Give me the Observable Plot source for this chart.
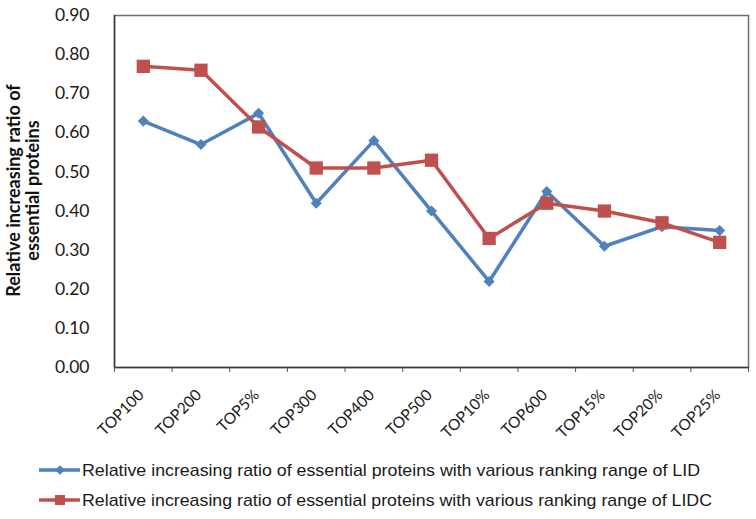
<!DOCTYPE html>
<html>
<head>
<meta charset="utf-8">
<script src="https://cdn.jsdelivr.net/npm/d3@7"></script>
<script src="https://cdn.jsdelivr.net/npm/@observablehq/plot@0.6"></script>
<style>
  html, body { margin: 0; padding: 0; background: #fff; }
  #wrap { width: 756px; height: 519px; position: relative; overflow: hidden; background: #fff; }
  #chart { position: absolute; left: 0; top: 0; }
  #legend { position: absolute; left: 0; top: 455px; }
</style>
</head>
<body>
<div id="wrap">
  <div id="chart"></div>
  <svg id="legend" width="756" height="64"></svg>
</div>
<script>
const categories = ["TOP100","TOP200","TOP5%","TOP300","TOP400","TOP500","TOP10%","TOP600","TOP15%","TOP20%","TOP25%"];
const lidValues  = [0.63, 0.57, 0.65, 0.42, 0.58, 0.40, 0.22, 0.45, 0.31, 0.36, 0.35];
const lidcValues = [0.77, 0.76, 0.615, 0.51, 0.51, 0.53, 0.33, 0.42, 0.40, 0.37, 0.32];
const yTicks = [0, 0.1, 0.2, 0.3, 0.4, 0.5, 0.6, 0.7, 0.8, 0.9];
const seriesNames = [
  "Relative increasing ratio of essential proteins with various ranking range of LID",
  "Relative increasing ratio of essential proteins with various ranking range of LIDC"
];
const yTitle = "Relative increasing ratio of\nessential proteins";

const blue = "#4F81BD", red = "#C0504D";
const data = categories.map((c, i) => ({i, cat: c, lid: lidValues[i], lidc: lidcValues[i]}));
const idx = categories.map((c, i) => i);
const bounds = d3.range(categories.length + 1).map(i => i - 0.5);

const chart = Plot.plot({
  width: 756, height: 455,
  marginLeft: 114, marginRight: 8, marginTop: 15, marginBottom: 88,
  x: {domain: [-0.5, categories.length - 0.5]},
  y: {domain: [0, 0.9]},
  style: {fontFamily: "Lato, 'Liberation Sans', Arial, sans-serif", background: "white", color: "#1a1a1a", overflow: "visible"},
  marks: [
    Plot.frame({stroke: "#6e6e6e", strokeWidth: 1.5}),
    Plot.ruleX([-0.5], {stroke: "#3a3a3a", strokeWidth: 1.5}),
    Plot.ruleY([0], {stroke: "#3a3a3a", strokeWidth: 1.5}),
    Plot.axisY(yTicks, {tickSize: 0, tickPadding: 25, tickFormat: d3.format(".2f"), fontSize: 17.5, label: null}),
    Plot.axisX(bounds, {tickSize: 5, tickFormat: () => "", label: null, stroke: "#555"}),
    Plot.axisX(idx, {tickSize: 0, tickPadding: 25, dx: -2, tickRotate: -45, tickFormat: i => categories[i], fontSize: 15.5, label: null}),
    Plot.line(data, {x: "i", y: "lid", stroke: blue, strokeWidth: 3.5}),
    Plot.dot(data, {x: "i", y: "lid", symbol: "diamond2", r: 5, fill: blue, stroke: "none"}),
    Plot.line(data, {x: "i", y: "lidc", stroke: red, strokeWidth: 3.5}),
    Plot.dot(data, {x: "i", y: "lidc", symbol: "square", r: 7.5, fill: red, stroke: "none"}),
    Plot.text([yTitle], {text: d => d, frameAnchor: "left", rotate: -90, dx: -91, dy: -1, textAnchor: "middle",
      fontWeight: "bold", fontSize: 18, lineHeight: 1.05, fill: "#111"})
  ]
});
document.getElementById("chart").appendChild(chart);

// legend
const lg = d3.select("#legend");
const rows = [
  {name: seriesNames[0], color: blue, sym: "diamond", y: 15, len: 618},
  {name: seriesNames[1], color: red, sym: "square", y: 45, len: 630}
];
rows.forEach(r => {
  lg.append("line").attr("x1", 39).attr("x2", 80).attr("y1", r.y).attr("y2", r.y)
    .attr("stroke", r.color).attr("stroke-width", 3.5);
  if (r.sym === "diamond") {
    lg.append("path").attr("d", d3.symbol(d3.symbolDiamond2, 60)()).attr("transform", `translate(60,${r.y})`).attr("fill", r.color);
  } else {
    lg.append("rect").attr("x", 55).attr("y", r.y - 5).attr("width", 10).attr("height", 10).attr("fill", r.color);
  }
  lg.append("text").attr("x", 82).attr("y", r.y).attr("dy", "0.35em")
    .attr("font-family", "'Liberation Sans', Arial, sans-serif").attr("font-size", 17)
    .attr("fill", "#1a1a1a")
    .attr("textLength", r.len).attr("lengthAdjust", "spacingAndGlyphs")
    .text(r.name);
});
</script>
</body>
</html>
